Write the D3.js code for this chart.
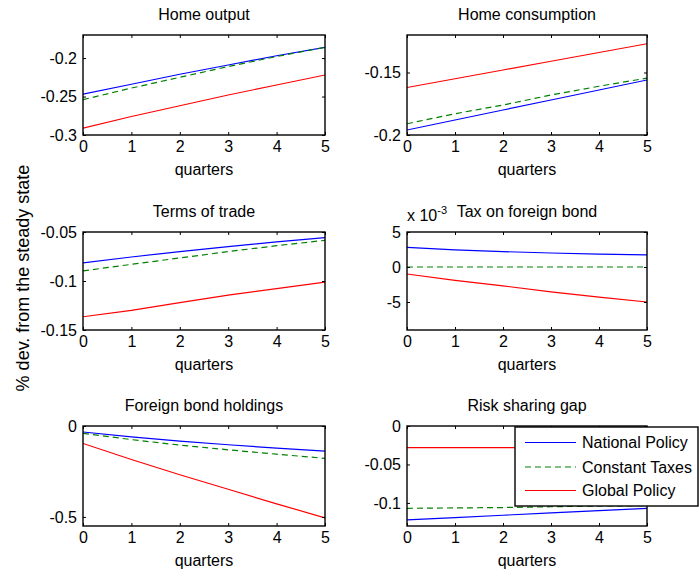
<!DOCTYPE html>
<html>
<head>
<meta charset="utf-8">
<script src="https://cdn.jsdelivr.net/npm/d3@7"></script>
<style>
  html, body { margin: 0; padding: 0; background: #fff; }
  svg { display: block; }
  text { font-family: "Liberation Sans", Arial, Helvetica, sans-serif; fill: #000; }
</style>
</head>
<body>
<svg id="chart" width="699" height="576"></svg>
<script>
// ---------- data ----------
const quarters = [0, 1, 2, 3, 4, 5];
const seriesNames = ["National Policy", "Constant Taxes", "Global Policy"];

const outputNational = [-0.247, -0.234, -0.221, -0.209, -0.197, -0.186];
const outputConstant = [-0.254, -0.239, -0.225, -0.211, -0.198, -0.186];
const outputGlobal   = [-0.291, -0.276, -0.262, -0.248, -0.235, -0.222];

const consNational = [-0.196, -0.188, -0.180, -0.172, -0.164, -0.156];
const consConstant = [-0.191, -0.183, -0.176, -0.168, -0.161, -0.1545];
const consGlobal   = [-0.162, -0.155, -0.148, -0.141, -0.134, -0.127];

const totNational = [-0.0815, -0.0755, -0.070, -0.065, -0.060, -0.0558];
const totConstant = [-0.0897, -0.083, -0.0765, -0.070, -0.064, -0.0585];
const totGlobal   = [-0.1365, -0.130, -0.122, -0.1145, -0.1078, -0.1012];

// in units of 1e-3
const taxNational = [2.8, 2.45, 2.2, 2.0, 1.85, 1.72];
const taxConstant = [0, 0, 0, 0, 0, 0];
const taxGlobal   = [-1.0, -1.9, -2.7, -3.55, -4.3, -5.0];

const bondNational = [-0.033, -0.060, -0.083, -0.103, -0.122, -0.138];
const bondConstant = [-0.040, -0.075, -0.105, -0.131, -0.155, -0.178];
const bondGlobal   = [-0.096, -0.184, -0.268, -0.348, -0.428, -0.505];

const gapNational = [-0.122, -0.119, -0.116, -0.113, -0.110, -0.107];
const gapConstant = [-0.107, -0.1065, -0.106, -0.105, -0.104, -0.1035];
const gapGlobal   = [-0.028, -0.028, -0.028, -0.028, -0.028, -0.028];

const xTicks = [0, 1, 2, 3, 4, 5];
const outputTicks = [-0.3, -0.25, -0.2];
const consTicks = [-0.2, -0.15];
const totTicks = [-0.15, -0.1, -0.05];
const taxTicks = [-5, 0, 5];
const bondTicks = [-0.5, 0];
const gapTicks = [-0.1, -0.05, 0];

// ---------- layout ----------
const svg = d3.select("#chart");
const colors = ["#0000ff", "#008000", "#ff0000"];
const dashes = [null, "6,4", null];
const FONT = 16;

const cols = [[83, 325], [407, 647]];
const rows = [[35, 135], [232, 330], [426, 526]];

const panels = [
  { title: "Home output", col: 0, row: 0, domain: [-0.3, -0.17], ticks: outputTicks, series: [outputNational, outputConstant, outputGlobal] },
  { title: "Home consumption", col: 1, row: 0, domain: [-0.2, -0.12], ticks: consTicks, series: [consNational, consConstant, consGlobal] },
  { title: "Terms of trade", col: 0, row: 1, domain: [-0.15, -0.05], ticks: totTicks, series: [totNational, totConstant, totGlobal] },
  { title: "Tax on foreign bond", col: 1, row: 1, domain: [-9, 5], ticks: taxTicks, series: [taxNational, taxConstant, taxGlobal], exponent: true },
  { title: "Foreign bond holdings", col: 0, row: 2, domain: [-0.55, 0], ticks: bondTicks, series: [bondNational, bondConstant, bondGlobal] },
  { title: "Risk sharing gap", col: 1, row: 2, domain: [-0.13, 0], ticks: gapTicks, series: [gapNational, gapConstant, gapGlobal], legend: true }
];

const fmt = v => (v === 0 ? "0" : String(+v.toFixed(4)));

panels.forEach((p, pi) => {
  const [x0, x1] = cols[p.col];
  const [y0, y1] = rows[p.row];
  const x = d3.scaleLinear().domain([0, 5]).range([x0, x1]);
  const y = d3.scaleLinear().domain(p.domain).range([y1, y0]);
  const g = svg.append("g");

  const clipId = "clip" + pi;
  svg.append("clipPath").attr("id", clipId)
    .append("rect").attr("x", x0).attr("y", y0).attr("width", x1 - x0).attr("height", y1 - y0);

  // data lines
  const line = d3.line().x((d, i) => x(quarters[i])).y(d => y(d));
  p.series.forEach((s, si) => {
    g.append("path")
      .datum(s)
      .attr("clip-path", `url(#${clipId})`)
      .attr("d", line)
      .attr("fill", "none")
      .attr("stroke", colors[si])
      .attr("stroke-width", 1.2)
      .attr("stroke-dasharray", dashes[si]);
  });

  // axes with inward ticks on all four sides
  const tl = 3;
  const xAxisB = d3.axisBottom(x).tickValues(xTicks).tickSize(-tl).tickPadding(6).tickFormat(d3.format("d"));
  const xAxisT = d3.axisTop(x).tickValues(xTicks).tickSize(-tl).tickFormat("");
  const yAxisL = d3.axisLeft(y).tickValues(p.ticks).tickSize(-tl).tickPadding(6).tickFormat(fmt);
  const yAxisR = d3.axisRight(y).tickValues(p.ticks).tickSize(-tl).tickFormat("");

  const styleAxis = sel => {
    sel.select(".domain").remove();
    sel.selectAll("line").attr("stroke", "#000").attr("stroke-width", 1);
    sel.selectAll("text").attr("font-size", FONT).attr("fill", "#000")
      .attr("font-family", '"Liberation Sans", Arial, sans-serif');
  };
  g.append("g").attr("transform", `translate(0,${y1})`).call(xAxisB).call(styleAxis);
  g.append("g").attr("transform", `translate(0,${y0})`).call(xAxisT).call(styleAxis);
  g.append("g").attr("transform", `translate(${x0},0)`).call(yAxisL).call(styleAxis);
  g.append("g").attr("transform", `translate(${x1},0)`).call(yAxisR).call(styleAxis);

  // box
  g.append("rect")
    .attr("x", x0).attr("y", y0).attr("width", x1 - x0).attr("height", y1 - y0)
    .attr("fill", "none").attr("stroke", "#000").attr("stroke-width", 1.4);

  // title
  g.append("text")
    .attr("x", (x0 + x1) / 2).attr("y", y0 - 15)
    .attr("text-anchor", "middle").attr("font-size", FONT)
    .text(p.title);

  if (p.exponent) {
    const ex = g.append("text").attr("x", x0).attr("y", y0 - 11).attr("font-size", FONT);
    ex.append("tspan").text("x 10");
    ex.append("tspan").attr("dy", -7).attr("font-size", 11).text("-3");
  }

  // xlabel
  g.append("text")
    .attr("x", (x0 + x1) / 2).attr("y", y1 + 40)
    .attr("text-anchor", "middle").attr("font-size", FONT)
    .text("quarters");

  if (p.legend) {
    const lx0 = 515, ly0 = 427, lw = 183, lh = 79;
    const lg = svg.append("g");
    lg.append("rect").attr("x", lx0).attr("y", ly0).attr("width", lw).attr("height", lh)
      .attr("fill", "#fff").attr("stroke", "#000").attr("stroke-width", 1.4);
    const rowY = [442.5, 467, 490.5];
    seriesNames.forEach((n, i) => {
      lg.append("line").attr("x1", 525).attr("x2", 576).attr("y1", rowY[i]).attr("y2", rowY[i])
        .attr("stroke", colors[i]).attr("stroke-width", 1.2).attr("stroke-dasharray", dashes[i]);
      lg.append("text").attr("x", 582).attr("y", rowY[i]).attr("dy", "0.35em")
        .attr("font-size", FONT).text(n);
    });
  }
});

// shared y label
svg.append("text")
  .attr("transform", "translate(29,278) rotate(-90)")
  .attr("text-anchor", "middle")
  .attr("font-size", 18)
  .text("% dev. from the steady state");
</script>
</body>
</html>
